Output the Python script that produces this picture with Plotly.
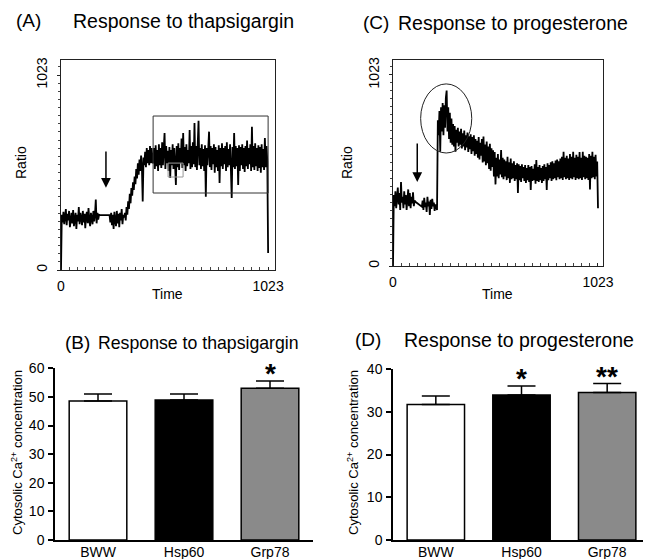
import numpy as np
import plotly.graph_objects as go

# ---------------- data ----------------
# Panel A: ratio trace, response to thapsigargin (257 samples over time 0..1023)
ratio_thapsigargin = [
    0,
    # baseline
    290, 250, 305, 240, 280, 320, 235, 295, 260, 310, 225, 285, 300, 245, 315,
    230, 270, 300, 215, 290, 255, 330, 240, 300, 275, 235, 310, 250, 295, 220,
    285, 305, 245, 325, 260, 230, 300, 270, 240, 310, 255, 290, 370, 245, 300,
    265, 290,
    # recording gap
    288, 288, 288, 288, 288, 288, 288, 288, 288, 288, 288, 288, 288,
    # baseline after addition
    250, 300, 235, 290, 215, 305, 260, 230, 310, 245, 295, 225, 300, 260, 320,
    240, 290, 275,
    # rise
    300, 260, 330, 290, 360, 320, 400, 350, 430, 390, 460, 420, 490, 450, 530,
    480, 560, 500, 580, 520, 600, 540, 360, 590, 550, 620, 540, 640, 560, 630,
    550, 650, 560, 640, 570,
    # plateau
    560, 640, 530, 655, 545, 630, 520, 660, 550, 640,
    535, 670, 550, 640, 719, 530, 650, 560, 625, 520,
    645, 483, 630, 550, 660, 530, 640, 555, 446, 650,
    540, 665, 525, 640, 560, 690, 535, 719, 550, 645,
    520, 660, 545, 630, 560, 735, 530, 650, 540, 670,
    555, 771, 540, 650, 525, 660, 783, 550, 640, 530,
    660, 545, 635, 520, 655, 385, 640, 550, 665, 726,
    540, 650, 525, 640, 555, 660, 510, 645, 540, 630,
    520, 655, 456, 640, 545, 665, 530, 640, 555, 650,
    520, 670, 540, 635, 550, 660, 525, 378, 645, 540,
    719, 530, 650, 545, 640, 446, 655, 520, 645, 550,
    660, 530, 640, 515, 650, 545, 680, 530, 640, 555,
    660, 520, 752, 540, 650, 525, 665, 545, 640, 520,
    655, 535, 645, 510, 660, 540, 635, 525, 692, 540,
    650, 570,
    89,
]

# Panel C: ratio trace, response to progesterone (257 samples over time 0..1023)
ratio_progesterone = [
    0,
    # baseline
    380, 320, 400, 310, 360, 420, 330, 390, 300, 450, 340, 370, 310, 400, 330,
    380, 300, 360, 410, 320, 390, 310, 370, 335, 395, 320, 350,
    # recording gap
    344, 341, 337, 334, 330, 327, 324, 321, 318,
    # baseline after addition
    350, 300, 365, 315, 340, 290, 370, 320, 345, 273, 355, 305, 360, 320, 340,
    295, 330, 310,
    # transient peak
    300, 780, 700, 830, 612, 850, 720, 873, 700, 860, 740, 900, 939, 720, 850,
    680, 820, 660, 790, 650, 760,
    # decay
    640, 750, 612, 730, 660, 740, 640, 720, 650, 735,
    630, 710, 640, 725, 620, 700, 635, 715, 610, 695,
    625, 705, 600, 690, 615, 700, 590, 680, 600, 670,
    580, 690, 570, 660, 590, 680, 555, 693, 560, 650,
    540, 666, 550, 640, 520, 655, 510, 630, 530, 620,
    480, 610, 437,
    # sustained phase
    580, 480, 600, 470, 570, 490, 621, 475, 580, 465,
    570, 480, 560, 460, 585, 470, 555, 445, 575, 465,
    550, 470, 560, 455, 540, 465, 550, 391, 545, 460,
    535, 450, 545, 470, 530, 455, 540, 445, 525, 460,
    540, 450, 530, 407, 535, 455, 520, 460, 545, 440,
    568, 455, 530, 450, 540, 460, 525, 445, 535, 455,
    545, 465, 530, 407, 550, 460, 540, 470, 555, 455,
    560, 465, 550, 470, 565, 460, 570, 475, 560, 465,
    575, 470, 585, 460, 612, 475, 580, 465, 590, 470,
    575, 460, 600, 470, 585, 465, 612, 475, 580, 460,
    595, 470, 585, 465, 610, 470, 580, 460, 612, 475,
    590, 465, 585, 470, 580, 460, 600, 410, 590, 470,
    612, 475, 585, 465, 595, 480, 560,
    309,
]

# Panels B and D: cytosolic Ca2+ concentration
groups = ["BWW", "Hsp60", "Grp78"]
thapsigargin_mean = [48.6, 48.95, 53.0]
thapsigargin_sem = [2.45, 2.1, 2.6]
thapsigargin_sig = ["", "", "*"]
progesterone_mean = [31.7, 33.9, 34.5]
progesterone_sem = [2.0, 2.1, 2.1]
progesterone_sig = ["", "*", "**"]
bar_colors = ["white", "black", "#8a8a8a"]

time_A = np.linspace(0, 1023, len(ratio_thapsigargin))
time_C = np.linspace(0, 1023, len(ratio_progesterone))

# the page body adds an 8px margin; lay out in window pixels and convert
OFF = 8
W, H = 651 - OFF, 559 - OFF
FONT = "Liberation Sans, Arial, Helvetica, sans-serif"


def px(x):
    return (x - OFF) / W


def py(y):
    return 1 - (y - OFF) / H


fig = go.Figure()

fig.add_trace(go.Scatter(x=time_A, y=ratio_thapsigargin, mode="lines",
                         line=dict(color="black", width=1.8),
                         xaxis="x", yaxis="y", showlegend=False))
fig.add_trace(go.Scatter(x=time_C, y=ratio_progesterone, mode="lines",
                         line=dict(color="black", width=1.8),
                         xaxis="x2", yaxis="y2", showlegend=False))

for means, sems, xa, ya in [(thapsigargin_mean, thapsigargin_sem, "x3", "y3"),
                            (progesterone_mean, progesterone_sem, "x4", "y4")]:
    fig.add_trace(go.Bar(
        x=groups, y=means, width=0.67,
        marker=dict(color=bar_colors, line=dict(color="black", width=1.5)),
        error_y=dict(type="data", symmetric=False, array=sems,
                     arrayminus=[0] * len(sems), color="black",
                     thickness=1.5, width=14),
        xaxis=xa, yaxis=ya, showlegend=False))

trace_x = dict(range=[0, 1057], showline=True, mirror=True, linecolor="#222",
               linewidth=1, showgrid=False, zeroline=False, automargin=False,
               tickvals=[0, 1023], ticktext=["0", "1023"], ticks="inside",
               ticklen=3, tickcolor="#222",
               minor=dict(ticks="inside", ticklen=3, dtick=1023 / 25, tick0=0,
                          tickcolor="#444", showgrid=False),
               tickfont=dict(size=14, color="black", family=FONT),
               ticklabelstandoff=3)
trace_y = dict(showline=True, mirror=True, linecolor="#222", linewidth=1,
               showgrid=False, zeroline=False, automargin=False,
               tickvals=[0, 1023], ticktext=["0", "1023"], ticks="outside",
               ticklen=3, tickcolor="#222", tickangle=-90,
               minor=dict(ticks="outside", ticklen=2, dtick=1023 / 24, tick0=0,
                          tickcolor="#444", showgrid=False),
               tickfont=dict(size=14, color="black", family=FONT),
               ticklabelstandoff=4)

bar_x = dict(range=[-0.5, 2.5], showline=True, linecolor="black", linewidth=1.5,
             showgrid=False, zeroline=False, ticks="", automargin=False,
             tickfont=dict(size=14, color="black", family=FONT),
             ticklabelstandoff=-2)
bar_y = dict(showline=True, linecolor="black", linewidth=1.5, showgrid=False,
             zeroline=False, ticks="outside", ticklen=5, tickwidth=1.5,
             tickcolor="black", dtick=10, automargin=False,
             tickfont=dict(size=14, color="black", family=FONT),
             ticklabelstandoff=1)

fig.update_layout(
    width=W, height=H, margin=dict(l=0, r=0, t=0, b=0, autoexpand=False),
    paper_bgcolor="white", plot_bgcolor="white",
    font=dict(family=FONT, color="black"),
    xaxis=dict(trace_x, domain=[px(61), px(275)], anchor="y"),
    yaxis=dict(trace_y, domain=[py(270), py(60)], range=[0, 1102], anchor="x"),
    xaxis2=dict(trace_x, domain=[px(393), px(603)], range=[0, 1048], anchor="y2"),
    yaxis2=dict(trace_y, domain=[py(266), py(60)], range=[0, 1103], anchor="x2"),
    xaxis3=dict(bar_x, domain=[px(55), px(313)], anchor="y3"),
    yaxis3=dict(bar_y, domain=[py(540), py(368.3)], range=[0, 60], anchor="x3"),
    xaxis4=dict(bar_x, domain=[px(393), px(650)], anchor="y4"),
    yaxis4=dict(bar_y, domain=[py(540), py(369)], range=[0, 40], anchor="x4"),
)

shapes = [
    dict(type="rect", xref="x", yref="y", x0=455, x1=1023, y0=404, y1=808,
         line=dict(color="#333", width=1), layer="above"),
    dict(type="rect", xref="x", yref="y", x0=529, x1=603, y0=488, y1=561,
         line=dict(color="#9a9a9a", width=1), layer="above"),
    dict(type="circle", xref="x2", yref="y2", x0=138, x1=393, y0=605, y1=975,
         line=dict(color="#222", width=1), layer="above"),
]
fig.update_layout(shapes=shapes)

ann = []


def text(x, y, s, size, xanchor="center", yanchor="middle", angle=0):
    ann.append(dict(x=px(x), y=py(y), xref="paper", yref="paper", text=s,
                    showarrow=False, xanchor=xanchor, yanchor=yanchor,
                    textangle=angle,
                    font=dict(size=size, color="black", family=FONT)))


# panel titles
text(14, 20, "(A)", 19, xanchor="left")
text(71, 21, "Response to thapsigargin", 19.5, xanchor="left")
text(361, 22, "(C)", 19, xanchor="left")
text(396, 23, "Response to progesterone", 19.5, xanchor="left")
text(63, 342, "(B)", 19, xanchor="left")
text(96, 343, "Response to thapsigargin", 17.7, xanchor="left")
text(353, 339, "(D)", 19, xanchor="left")
text(402, 340, "Response to progesterone", 19.5, xanchor="left")

# axis titles
text(21, 163, "Ratio", 14, angle=-90)
text(167, 294, "Time", 14)
text(347, 163, "Ratio", 14, angle=-90)
text(497, 294, "Time", 14)
text(17, 453, "Cytosolic Ca<sup>2+</sup> concentration", 13, angle=-90)
text(353, 453, "Cytosolic Ca<sup>2+</sup> concentration", 13, angle=-90)

# stimulus arrows (tail placed above to allow for the empty label box)
ann.append(dict(x=222, y=432, ax=222, ay=630, xref="x", yref="y", axref="x",
                ayref="y", showarrow=True, arrowhead=2, arrowsize=1.3,
                arrowwidth=1.5, arrowcolor="black", text="",
                font=dict(size=1)))
ann.append(dict(x=121, y=450, ax=121, ay=664, xref="x2", yref="y2", axref="x2",
                ayref="y2", showarrow=True, arrowhead=2, arrowsize=1.3,
                arrowwidth=1.5, arrowcolor="black", text="",
                font=dict(size=1)))

# significance stars
for means, sems, sig, xa, ya in [
        (thapsigargin_mean, thapsigargin_sem, thapsigargin_sig, "x3", "y3"),
        (progesterone_mean, progesterone_sem, progesterone_sig, "x4", "y4")]:
    for g, m, s, t in zip(groups, means, sems, sig):
        if t:
            ann.append(dict(x=g, y=m + s, xref=xa, yref=ya, text="<b>" + t + "</b>",
                            showarrow=False, yanchor="bottom", yshift=-10,
                            font=dict(size=28, color="black", family=FONT)))

fig.update_layout(annotations=ann)

fig.write_html("out.html")
